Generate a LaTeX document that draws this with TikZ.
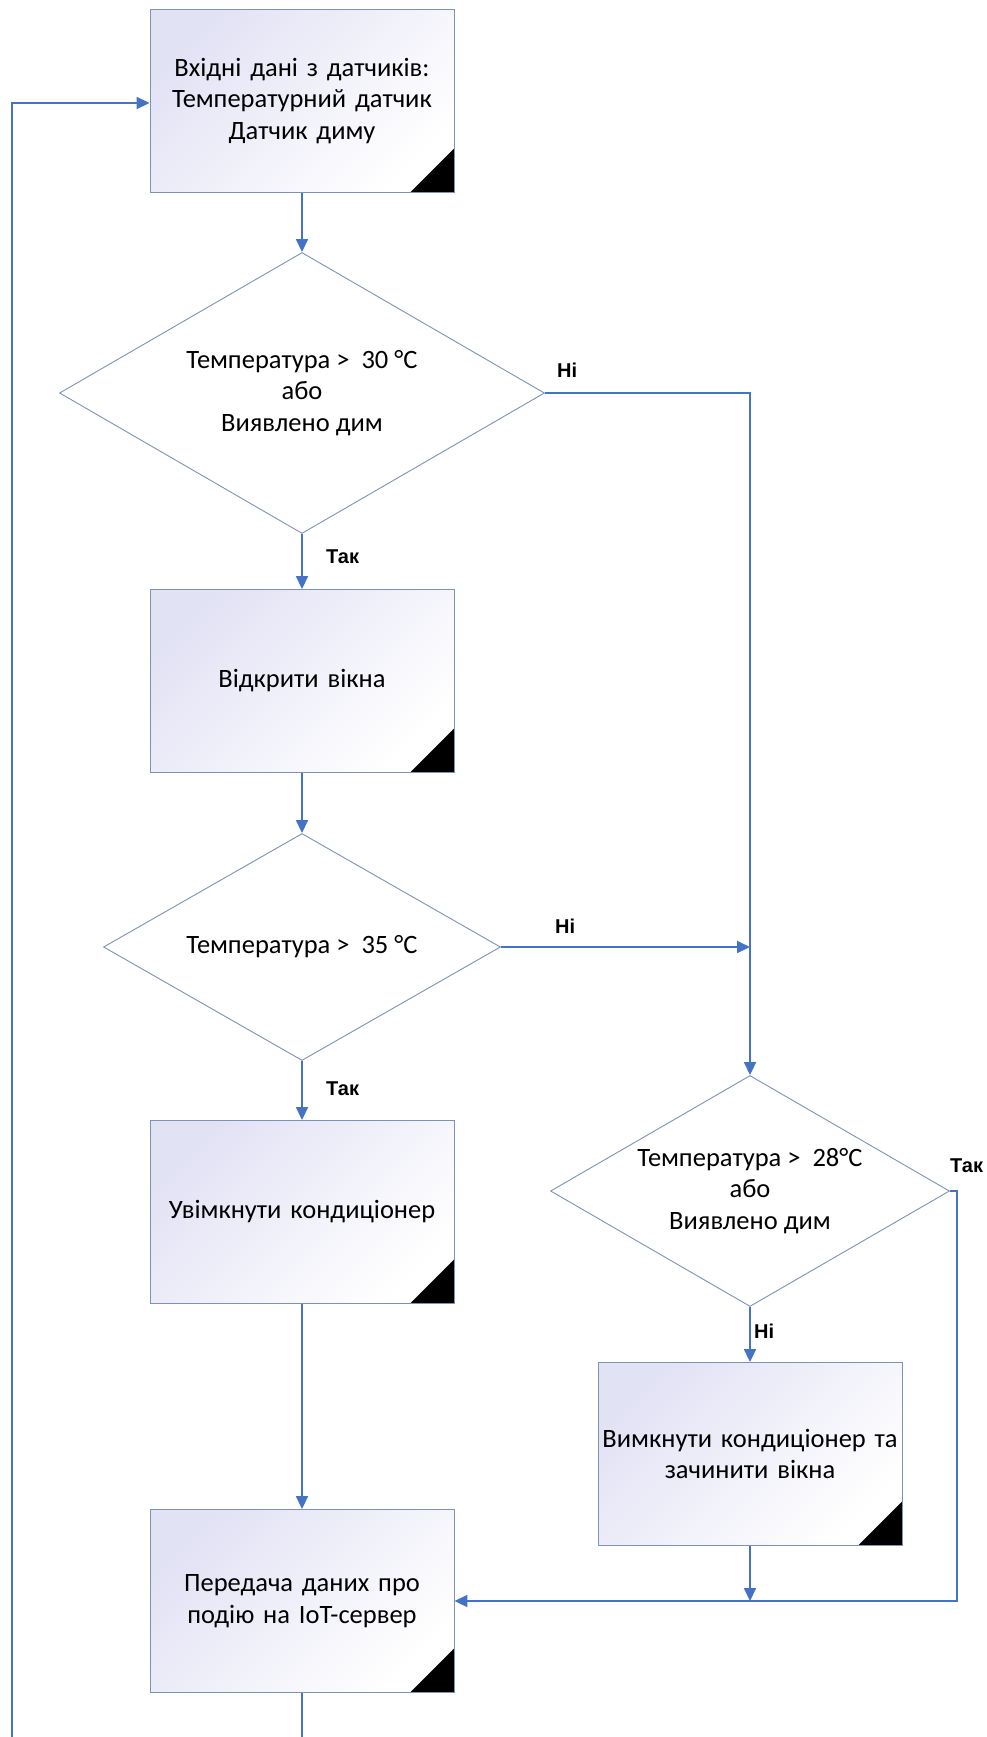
\documentclass[tikz,border=0pt]{standalone}
\usepackage{fontspec}
\setmainfont{Carlito}
\newfontfamily\labelfont{Liberation Sans}
\usetikzlibrary{shapes.geometric, arrows.meta, positioning}
\definecolor{flowblue}{RGB}{68, 114, 196}
\definecolor{edgegray}{RGB}{125, 145, 185}
\definecolor{boxtint}{RGB}{226, 226, 245}
\newcommand{\boxfont}{\fontsize{26.5}{31.5}\selectfont}
\newcommand{\answerfont}{\labelfont\fontsize{20}{24}\selectfont\bfseries}
\tikzset{
  procbox/.style={draw=edgegray, line width=0.9pt, top color=boxtint, bottom color=white, shading angle=45,
    minimum width=304pt, minimum height=183pt, text width=300pt, align=center, inner sep=0pt, font=\boxfont,
    path picture={\fill[black] (path picture bounding box.south east) -- ++(-44pt,0pt) -- ++(44pt,44pt) -- cycle;}},
  decision/.style={diamond, aspect=1.73, draw=edgegray, fill=white, line width=0.9pt, inner sep=-4pt, align=center, font=\boxfont},
  flow/.style={flowblue, line width=1.8pt, -{Triangle[length=13pt, width=12pt]}},
  answer/.style={inner sep=0pt, font=\answerfont}
}

\begin{document}
\begin{tikzpicture}[x=1pt, y=-1pt]
  \useasboundingbox (0,0) rectangle (987,1737);

  % Left column
  \node[procbox] (input) at (302,101) {Вхідні дані з датчиків:\\Температурний датчик\\Датчик диму};
  \node[decision, minimum width=485pt, minimum height=281pt] (hot) at (302,393) {Температура >\ \ 30 °C\\або\\Виявлено дим};
  \node[procbox] (windows) at (302,681) {Відкрити вікна};
  \node[decision, minimum width=397pt, minimum height=227pt] (veryhot) at (302,947) {Температура >\ \ 35 °C};
  \node[procbox] (cooler) at (302,1212) {Увімкнути кондиціонер};
  \node[procbox] (report) at (302,1601) {Передача даних про\\подію на IoT-сервер};

  % Right column
  \node[decision, minimum width=399pt, minimum height=231pt] (warm) at (750,1191) {Температура >\ \ 28°C\\або\\Виявлено дим};
  \node[procbox] (shutdown) at (750,1454) {Вимкнути кондиціонер та\\зачинити вікна};

  % Route points
  \coordinate (yesrail) at (957,1191);
  \coordinate (loopbottom) at (302,1760);
  \coordinate (loopcorner) at (12,1760);

  % Connectors
  \draw[flow] (input) -- (hot);
  \draw[flow] (hot) -- (windows);
  \draw[flow] (windows) -- (veryhot);
  \draw[flow] (veryhot) -- (cooler);
  \draw[flow] (cooler) -- (report);
  \draw[flow] (hot.east) -| (warm.north);
  \draw[flow] (veryhot.east) -- (veryhot.east -| warm.north);
  \draw[flow] (warm) -- (shutdown);
  \draw[flow] (shutdown.south) -- (shutdown.south |- report.east);
  \draw[flow] (warm.east) -- (yesrail) |- (report.east);
  \draw[flow] (report.south) -- (loopbottom) -- (loopcorner) |- ([yshift=-2pt]input.west);

  % Answers
  \node[answer, above right=15pt and 12pt of hot.east] (hotno) {Ні};
  \node[answer, below right=16pt and 24pt of hot.south] (hotyes) {Так};
  \node[answer, above right=13pt and 54pt of veryhot.east] (veryhotno) {Ні};
  \node[answer, below right=21pt and 24pt of veryhot.south] (veryhotyes) {Так};
  \node[answer, above right=18pt and 0pt of warm.east] (warmyes) {Так};
  \node[answer, below right=17pt and 4pt of warm.south] (warmno) {Ні};
\end{tikzpicture}
\end{document}
